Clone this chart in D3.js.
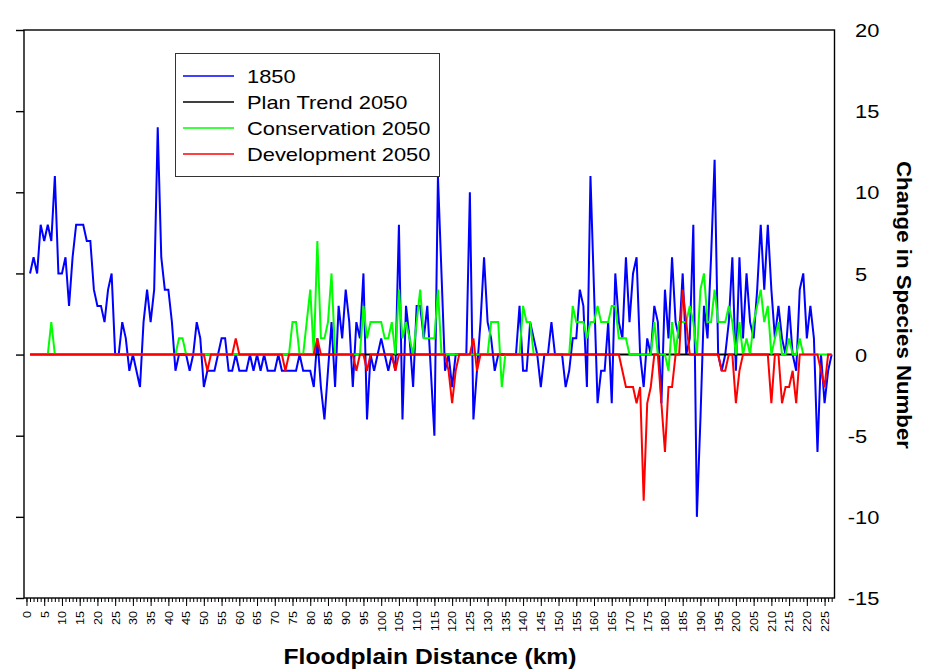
<!DOCTYPE html>
<html><head><meta charset="utf-8">
<script src="https://cdn.jsdelivr.net/npm/d3@7"></script>
<style>
body{margin:0;background:#fff}
svg{display:block}
text{font-family:"Liberation Sans",Arial,Helvetica,sans-serif;fill:#000}
</style>
</head><body>
<svg id="c" width="930" height="670"></svg>
<script>
// ---------- data ----------
const distanceKm = d3.range(1, 228); // 1 km steps along the floodplain

const series1850 = [
 5,6,5,8,7,8,7,11,5,5,
 6,3,6,8,8,8,7,7,4,3,
 3,2,4,5,0,0,2,1,-1,0,
 -1,-2,2,4,2,4,14,6,4,4,
 2,-1,0,0,0,-1,0,2,1,-2,
 -1,-1,-1,0,1,1,-1,-1,0,-1,
 -1,-1,0,-1,0,-1,0,-1,-1,-1,
 0,-1,-1,-1,-1,-1,0,-1,-1,-1,
 -2,1,-2,-4,-1,2,-2,3,1,4,
 2,-2,2,1,5,-4,0,-1,0,1,
 0,-1,0,-1,8,-4,3,1,-2,3,
 3,1,3,-1,-5,11,5,-1,0,-2,
 0,0,0,0,10,-4,-1,2,6,2,
 1,-1,0,0,0,0,0,0,3,-1,
 -1,2,1,0,-2,0,0,2,0,0,
 0,-2,-1,1,1,4,3,-2,11,4,
 -3,-1,-1,2,-3,5,2,1,6,2,
 5,6,0,-2,1,0,3,2,-3,4,
 1,6,2,1,5,0,1,8,-10,-4,
 3,1,6,12,0,-1,0,2,6,-1,
 6,1,5,2,1,4,8,4,8,4,
 1,3,1,0,3,0,-1,4,5,1,
 3,1,-6,0,-3,-1,0
];

const planTrend2050 = [
 0,0,0,0,0,0,0,0,0,0, 0,0,0,0,0,0,0,0,0,0, 0,0,0,0,0,0,0,0,0,0,
 0,0,0,0,0,0,0,0,0,0, 0,0,0,0,0,0,0,0,0,0, 0,0,0,0,0,0,0,0,0,0,
 0,0,0,0,0,0,0,0,0,0, 0,0,0,0,0,0,0,0,0,0, 0,0,0,0,0,0,0,0,0,0,
 0,0,0,0,0,0,0,0,0,0, 0,0,0,0,0,0,0,0,0,0, 0,0,0,0,0,0,0,0,0,0,
 0,0,0,0,0,0,0,0,0,0, 0,0,0,0,0,0,0,0,0,0, 0,0,0,0,0,0,0,0,0,0,
 0,0,0,0,0,0,0,0,0,0, 0,0,0,0,0,0,0,0,0,0, 0,0,0,0,0,0,0,0,0,0,
 0,0,0,0,0,0,0,0,0,0, 0,0,0,0,0,0,0,0,0,0, 0,0,0,0,0,0,0,0,0,0,
 0,0,0,0,0,0,0
];

const conservation2050 = [
 0,0,0,0,0,0,2,0,0,0,
 0,0,0,0,0,0,0,0,0,0,
 0,0,0,0,0,0,0,0,0,0,
 0,0,0,0,0,0,0,0,0,0,
 0,0,1,1,0,0,0,0,0,0,
 0,0,0,0,0,0,0,0,0,0,
 0,0,0,0,0,0,0,0,0,0,
 0,0,0,0,2,2,0,0,2,4,
 0,7,1,1,2,5,0,0,0,0,
 0,0,0,0,3,1,2,2,2,2,
 1,1,2,0,4,1,2,1,0,2,
 4,1,1,1,1,4,0,0,0,0,
 0,0,0,0,0,0,0,0,0,0,
 2,2,2,-2,0,0,0,0,0,3,
 2,2,0,0,0,0,0,0,0,0,
 0,0,0,3,2,2,2,1,2,2,
 3,2,2,2,3,3,1,1,1,0,
 0,0,0,0,0,0,2,0,0,0,
 -1,2,0,2,2,2,3,2,0,4,
 5,2,2,4,2,2,2,3,2,0,
 2,0,1,0,2,3,4,2,3,0,
 1,2,0,0,1,0,0,1,0,0,
 0,0,0,0,0,0,0
];

const development2050 = [
 0,0,0,0,0,0,0,0,0,0,
 0,0,0,0,0,0,0,0,0,0,
 0,0,0,0,0,0,0,0,0,0,
 0,0,0,0,0,0,0,0,0,0,
 0,0,0,0,0,0,0,0,0,0,
 -1,0,0,0,0,0,0,0,1,0,
 0,0,0,0,0,0,0,0,0,0,
 0,0,-1,0,0,0,0,0,0,0,
 0,1,0,0,0,0,0,0,0,0,
 0,0,-1,0,0,-1,0,0,0,0,
 0,0,0,-1,0,0,0,0,0,0,
 0,0,0,0,0,0,0,0,-1,-3,
 -1,0,0,0,0,1,-1,0,0,0,
 0,0,0,0,0,0,0,0,0,0,
 0,0,0,0,0,0,0,0,0,0,
 0,0,0,0,0,0,0,0,0,0,
 0,0,0,0,0,0,0,-1,-2,-2,
 -2,-3,-2,-9,-3,-2,0,0,-3,-6,
 -2,-2,0,0,4,2,0,0,0,0,
 0,0,0,0,0,-1,-1,0,0,-3,
 -1,0,0,0,0,0,0,0,0,-3,
 0,0,-3,-2,-2,-1,-3,0,0,0,
 0,0,0,-1,-2,0,0
];

const seriesNames  = ["1850", "Plan Trend 2050", "Conservation 2050", "Development 2050"];
const seriesColors = ["#0000ff", "#000000", "#00ff00", "#ff0000"];
const xMinorTicks  = d3.range(0, 228);
const xTickLabels  = d3.range(0, 226, 5);
const yTickValues  = [-15, -10, -5, 0, 5, 10, 15, 20];
const xTitle = "Floodplain Distance (km)";
const yTitle = "Change in Species Number";

// ---------- chart ----------
const svg = d3.select("#c");
const L = 24, R = 834.5, T = 30, B = 598;
const x = d3.scaleLinear().domain([-0.7, 227.8]).range([L, R]);
const y = d3.scaleLinear().domain([-15, 20]).range([B, T]);

function stretch(sel, f) {
  sel.each(function () {
    const w = this.getComputedTextLength();
    d3.select(this).attr("textLength", w * f).attr("lengthAdjust", "spacingAndGlyphs");
  });
}

// data lines
const allSeries = [series1850, planTrend2050, conservation2050, development2050];
const line = d3.line().x((d, i) => x(distanceKm[i])).y(d => y(d));
const gLines = svg.append("g");
allSeries.forEach((s, i) => {
  gLines.append("path").datum(s)
    .attr("d", line)
    .attr("fill", "none")
    .attr("stroke", seriesColors[i])
    .attr("stroke-width", 2)
    .attr("stroke-linejoin", "miter")
    .attr("stroke-miterlimit", 3);
});

// frame
svg.append("rect").attr("x", L).attr("y", T).attr("width", R - L).attr("height", B - T)
  .attr("fill", "none").attr("stroke", "#000").attr("stroke-width", 1.4);

// bottom axis: minor ticks
const gxMinor = svg.append("g").attr("transform", `translate(0,${B})`)
  .call(d3.axisBottom(x).tickValues(xMinorTicks).tickSize(4).tickSizeOuter(0).tickFormat(""));
gxMinor.select(".domain").remove();
gxMinor.selectAll("line").attr("stroke", "#000").attr("stroke-width", 1);

// bottom axis: major ticks + rotated labels
const gx = svg.append("g").attr("transform", `translate(0,${B})`)
  .call(d3.axisBottom(x).tickValues(xTickLabels).tickSize(8).tickSizeOuter(0).tickFormat(d => String(d)));
gx.select(".domain").remove();
gx.selectAll("line").attr("stroke", "#000").attr("stroke-width", 1);
gx.selectAll("text")
  .attr("transform", "rotate(-90)")
  .attr("x", -13).attr("y", 0).attr("dy", "0.35em")
  .attr("text-anchor", "end")
  .style("font-size", "11px")
  .style("font-family", '"Liberation Sans",Arial,sans-serif')
  .attr("fill", "#000");
stretch(gx.selectAll("text"), 1.15);

// left axis: ticks only
const gy = svg.append("g").attr("transform", `translate(${L},0)`)
  .call(d3.axisLeft(y).tickValues(yTickValues).tickSize(8).tickSizeOuter(0).tickFormat(""));
gy.select(".domain").remove();
gy.selectAll("line").attr("stroke", "#000").attr("stroke-width", 1.4);

// right axis: labels only
const gyr = svg.append("g").attr("transform", `translate(${R},0)`)
  .call(d3.axisRight(y).tickValues(yTickValues).tickSize(0).tickFormat(d => String(d)));
gyr.select(".domain").remove();
gyr.selectAll("line").remove();
gyr.selectAll("text")
  .style("font-size", "19px")
  .style("font-family", '"Liberation Sans",Arial,sans-serif')
  .attr("fill", "#000")
  .attr("text-anchor", "start")
  .attr("dy", "0.35em");
stretch(gyr.selectAll("text"), 1.15);
gyr.selectAll("text").each(function (d) {
  const base = 855 - R;
  if (d < 0) {
    const full = +this.getAttribute("textLength");
    const t = d3.select(this);
    t.text(String(-d)).attr("textLength", null);
    const wAbs = this.getComputedTextLength() * 1.15;
    t.text(String(d)).attr("textLength", full);
    t.attr("x", base - (full - wAbs));
  } else {
    d3.select(this).attr("x", base);
  }
});

// axis titles
svg.append("text")
  .attr("x", 430).attr("y", 664)
  .attr("text-anchor", "middle")
  .style("font-size", "22px").style("font-weight", "bold")
  .attr("textLength", 293).attr("lengthAdjust", "spacingAndGlyphs")
  .text(xTitle);

svg.append("text")
  .attr("transform", "translate(897,305) rotate(90)")
  .attr("text-anchor", "middle")
  .style("font-size", "20px").style("font-weight", "bold")
  .attr("textLength", 288).attr("lengthAdjust", "spacingAndGlyphs")
  .text(yTitle);

// legend
const lg = svg.append("g");
lg.append("rect").attr("x", 175.5).attr("y", 53.5).attr("width", 264).attr("height", 123)
  .attr("fill", "#fff").attr("stroke", "#333").attr("stroke-width", 1);
seriesNames.forEach((name, i) => {
  const yy = 76 + i * 26;
  lg.append("line").attr("x1", 183).attr("x2", 234).attr("y1", yy).attr("y2", yy)
    .attr("stroke", seriesColors[i]).attr("stroke-width", 1.5);
  lg.append("text").attr("x", 247).attr("y", yy).attr("dy", "0.35em")
    .style("font-size", "19px").text(name);
});
stretch(lg.selectAll("text"), 1.15);
</script>
</body></html>
